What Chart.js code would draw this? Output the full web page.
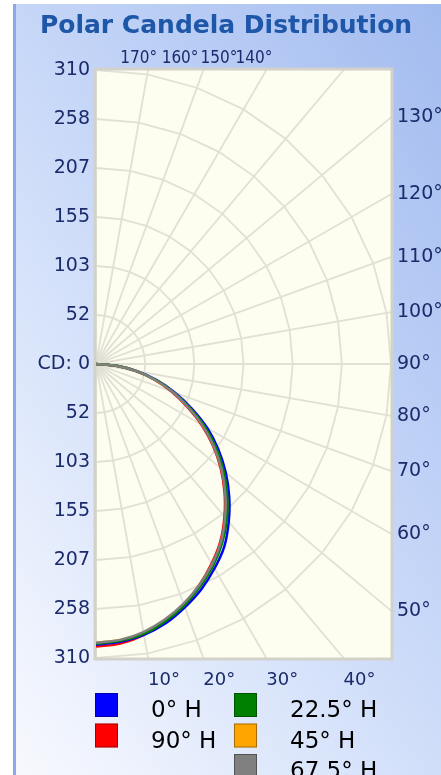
<!DOCTYPE html>
<html>
<head>
<meta charset="utf-8">
<title>Polar Candela Distribution</title>
<script src="https://cdn.jsdelivr.net/npm/chart.js@4.4.1/dist/chart.umd.min.js"></script>
<style>
  html, body { margin: 0; padding: 0; background: #ffffff; }
  #panel {
    position: absolute; left: 13px; top: 4px; width: 425px; height: 771px;
    border-left: 3px solid #8ea8e6;
    background: linear-gradient(55deg, #f8f9fe 0%, #dbe6fb 32%, #c4d5f7 58%, #a2bbef 100%);
  }
  #chart { position: absolute; left: 0; top: 0; }
</style>
</head>
<body>
<div id="panel"></div>
<canvas id="chart" width="441" height="775"></canvas>
<script>
// candela scale
const cdMax = 310;
const ringCount = 6;

// vertical angles (deg from nadir)
const angles = [0, 5, 10, 15, 20, 25, 30, 35, 40, 45, 50, 55, 60, 65, 70, 75, 80, 85, 90];

// candela per horizontal plane
const cd0H    = [296, 294, 290, 283, 273, 262, 249, 235, 217, 198, 178, 157, 135, 111, 88, 66, 44, 22, 0];
const cd22_5H = [295, 293, 289, 281, 271, 259, 246, 231, 214, 195, 175, 154, 132, 108, 86, 65, 43, 22, 0];
const cd45H   = [294, 292, 288, 280, 270, 258, 245, 230, 213, 194, 174, 153, 131, 108, 86, 64, 43, 22, 0];
const cd67_5H = [294, 292, 287, 279, 269, 257, 244, 229, 211, 192, 172, 151, 129, 106, 85, 64, 43, 21, 0];
const cd90H   = [298, 296, 290, 281, 270, 257, 243, 228, 210, 191, 171, 150, 128, 105, 84, 63, 42, 21, 0];

const seriesLabels = ['0° H', '22.5° H', '45° H', '67.5° H', '90° H'];
const seriesData = [cd0H, cd22_5H, cd45H, cd67_5H, cd90H];
const seriesColors = ['#0000ff', '#008000', '#ffa500', '#808080', '#ff0000'];
const seriesOrder = [3, 1, 2, 0, 4];

// legend columns (by series label)
const legendCol1 = ['0° H', '90° H'];
const legendCol2 = ['22.5° H', '45° H', '67.5° H'];

// angle labels round the plot
const rightAngleLabels = [130, 120, 110, 100, 90, 80, 70, 60, 50];
const topAngleLabels = [170, 160, 150, 140];
const bottomAngleLabels = [10, 20, 30, 40];

const FONT = 'DejaVu Sans';
const LABEL_COLOR = '#1b2a6b';

function toXY(deg, cd) {
    const a = deg * Math.PI / 180;
    return { x: cd * Math.sin(a), y: -cd * Math.cos(a) };
}

const ringValues = [];
for (let k = -ringCount; k <= ringCount; k++) ringValues.push(k * cdMax / ringCount);

const datasets = seriesLabels.map((label, i) => ({
    label: label,
    data: angles.map((a, j) => toXY(a, seriesData[i][j])),
    borderColor: seriesColors[i],
    backgroundColor: seriesColors[i],
    borderWidth: 2.5,
    showLine: true,
    tension: 0.3,
    pointRadius: 0,
    order: seriesOrder[i]
}));

// cream plot box + polar web
const polarGrid = {
    id: 'polarGrid',
    beforeDatasetsDraw(chart) {
        const { ctx, chartArea: ca, scales: { x, y } } = chart;
        ctx.save();
        ctx.fillStyle = '#fdfdf0';
        ctx.fillRect(ca.left, ca.top, ca.right - ca.left, ca.bottom - ca.top);

        ctx.beginPath();
        ctx.rect(ca.left, ca.top, ca.right - ca.left, ca.bottom - ca.top);
        ctx.clip();

        const cx = x.getPixelForValue(0), cy = y.getPixelForValue(0);
        ctx.strokeStyle = '#e0e0d4';
        ctx.lineWidth = 1.8;

        // rings
        for (let k = 1; k <= ringCount; k++) {
            const r = k * cdMax / ringCount;
            ctx.beginPath();
            for (let a = 0; a <= 180; a += 10) {
                const p = toXY(a, r);
                const px = x.getPixelForValue(p.x), py = y.getPixelForValue(p.y);
                if (a === 0) ctx.moveTo(px, py); else ctx.lineTo(px, py);
            }
            ctx.stroke();
        }
        // radials
        for (let a = 0; a <= 180; a += 10) {
            const p = toXY(a, cdMax * 2);
            ctx.beginPath();
            ctx.moveTo(cx, cy);
            ctx.lineTo(x.getPixelForValue(p.x), y.getPixelForValue(p.y));
            ctx.stroke();
        }
        ctx.restore();

        // sunken border
        ctx.save();
        ctx.strokeStyle = '#d2d2ca';
        ctx.lineWidth = 3;
        ctx.strokeRect(ca.left - 1, ca.top - 1, ca.right - ca.left + 2, ca.bottom - ca.top + 2);
        ctx.restore();
    }
};

// angle labels + legend
const extras = {
    id: 'extras',
    afterDraw(chart) {
        const { ctx, chartArea: ca, scales: { x, y } } = chart;
        ctx.save();
        ctx.fillStyle = LABEL_COLOR;
        ctx.font = '19px "' + FONT + '"';

        // right edge
        ctx.textAlign = 'left';
        ctx.textBaseline = 'middle';
        rightAngleLabels.forEach(a => {
            const r = (Math.PI * a) / 180;
            const yv = -cdMax * Math.cos(r) / Math.sin(r);
            ctx.fillText(a + '°', ca.right + 6, y.getPixelForValue(yv));
        });

        // bottom edge
        ctx.textBaseline = 'top';
        ctx.font = '18px "' + FONT + '"';
        bottomAngleLabels.forEach(a => {
            const xv = cdMax * Math.tan(a * Math.PI / 180);
            ctx.fillText(a + '°', x.getPixelForValue(xv), ca.bottom + 13);
        });

        // top edge (projected from 5th ring)
        ctx.textAlign = 'center';
        ctx.textBaseline = 'bottom';
        ctx.font = '17px "DejaVu Sans Condensed", "' + FONT + '"';
        topAngleLabels.forEach(a => {
            const p = toXY(a, (ringCount - 1) * cdMax / ringCount);
            ctx.fillText(a + '°', x.getPixelForValue(p.x), ca.top - 3);
        });

        // legend
        ctx.font = '23px "' + FONT + '"';
        ctx.textAlign = 'left';
        ctx.textBaseline = 'alphabetic';
        const top0 = ca.bottom + 35;
        const rowH = 30.5;
        const cols = [{ items: legendCol1, x: ca.left - 1 }, { items: legendCol2, x: ca.left + 138 }];
        cols.forEach(col => {
            col.items.forEach((lbl, r) => {
                const i = seriesLabels.indexOf(lbl);
                const by = top0 + r * rowH;
                ctx.fillStyle = seriesColors[i];
                ctx.fillRect(col.x, by, 23, 24);
                ctx.strokeStyle = 'rgba(0,0,0,0.35)';
                ctx.lineWidth = 1;
                ctx.strokeRect(col.x + 0.5, by + 0.5, 22, 23);
                ctx.fillStyle = '#000000';
                ctx.fillText(lbl, col.x + 56, by + 24);
            });
        });
        ctx.restore();
    }
};

new Chart(document.getElementById('chart'), {
    type: 'scatter',
    data: { datasets },
    options: {
        responsive: false,
        animation: false,
        devicePixelRatio: 1,
        events: [],
        layout: { padding: { left: 11, right: 0, top: 0, bottom: 117 } },
        scales: {
            x: { type: 'linear', min: 0, max: cdMax, display: false },
            y: {
                type: 'linear',
                position: 'left',
                min: -cdMax,
                max: cdMax,
                afterBuildTicks: (scale) => { scale.ticks = ringValues.map(v => ({ value: v })); },
                afterFit: (scale) => { scale.width = 85; },
                grid: { display: false, drawTicks: false },
                border: { display: false },
                ticks: {
                    autoSkip: false,
                    padding: 6,
                    color: LABEL_COLOR,
                    font: { family: FONT, size: 19 },
                    callback: (v) => v === 0 ? 'CD: 0' : String(Math.round(Math.abs(v)))
                }
            },
            // empty strip on the right that holds the angle labels
            yRight: {
                type: 'linear',
                position: 'right',
                min: -cdMax,
                max: cdMax,
                afterFit: (scale) => { scale.width = 50; },
                grid: { display: false, drawTicks: false },
                border: { display: false },
                ticks: { display: false }
            }
        },
        plugins: {
            legend: { display: false },
            tooltip: { enabled: false },
            title: {
                display: true,
                text: 'Polar Candela Distribution',
                color: '#1e56a8',
                font: { family: FONT, size: 25, weight: 'bold' },
                padding: { top: 11, bottom: 29 }
            }
        }
    },
    plugins: [polarGrid, extras]
});
</script>
</body>
</html>
